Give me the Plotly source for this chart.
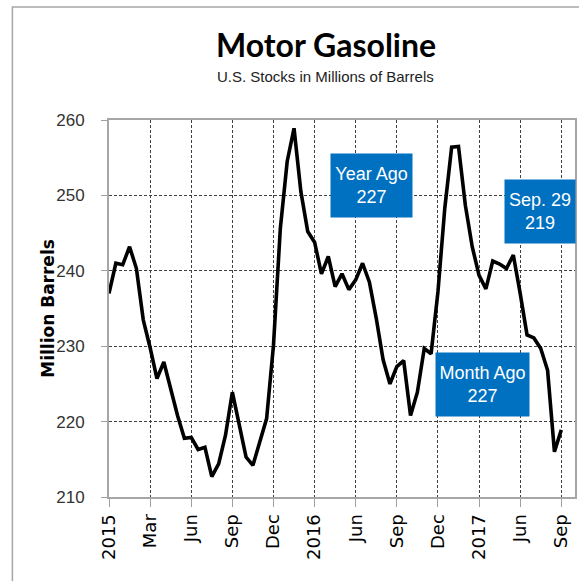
import plotly.graph_objects as go

# Semi-monthly observations, Jan 2015 .. Sep 29 2017 (million barrels)
stocks = [
    237.0, 241.0, 240.8, 243.2, 240.3, 233.5, 229.8, 225.7, 227.9, 224.1,
    220.8, 217.8, 217.9, 216.3, 216.6, 212.7, 214.4, 218.2, 223.9, 219.6,
    215.3, 214.2, 217.5, 220.4, 230.1, 245.6, 254.5, 258.9, 250.5, 245.2,
    243.8, 239.6, 241.9, 237.9, 239.6, 237.5, 238.8, 241.0, 238.5, 233.7,
    228.2, 225.0, 227.3, 228.1, 220.8, 223.9, 229.7, 229.0, 237.2, 248.3,
    256.4, 256.5, 248.7, 243.2, 239.4, 237.6, 241.3, 240.9, 240.3, 242.1,
    237.0, 231.5, 231.1, 229.7, 226.8, 216.0, 218.9,
]
period = list(range(len(stocks)))

tick_positions = [0, 6, 12, 18, 24, 30, 36, 42, 48, 54, 60, 66]
tick_labels = ["2015", "Mar", "Jun", "Sep", "Dec", "2016", "Jun", "Sep",
               "Dec", "2017", "Jun", "Sep"]
y_ticks = [210, 220, 230, 240, 250, 260]

title_text = "Motor Gasoline"
subtitle_text = "U.S. Stocks in Millions of Barrels"
y_title = "Million Barrels"
callouts = [
    ("Year Ago<br>227", 0.5624, 0.8257, 81, 63),
    ("Sep. 29<br>219", 0.9256, 0.7578, 70, 63),
    ("Month Ago<br>227", 0.8006, 0.2979, 93, 63),
]

SANS = "Liberation Sans, Arial, sans-serif"
BLUE = "#0070C0"

fig = go.Figure()
fig.add_trace(go.Scatter(
    x=period, y=stocks, mode="lines",
    line=dict(color="black", width=3.6),
    hoverinfo="skip", showlegend=False,
))

fig.update_layout(
    width=579, height=581,
    margin=dict(l=109, r=2, t=120, b=84),
    paper_bgcolor="white", plot_bgcolor="white",
    showlegend=False,
)

fig.update_xaxes(
    range=[0, 68],
    tickmode="array", tickvals=tick_positions, ticktext=tick_labels,
    tickangle=-90,
    tickfont=dict(family="DejaVu Sans, sans-serif", size=18, color="black"),
    ticks="outside", ticklen=8, tickcolor="#a0a0a0", tickwidth=1,
    showgrid=True, gridcolor="#404040", gridwidth=1, griddash="3px,2px",
    showline=True, linecolor="#a6a6a6", linewidth=2, mirror=True,
    zeroline=False,
)
fig.update_yaxes(
    range=[210, 260],
    tickmode="array", tickvals=y_ticks,
    tickfont=dict(family=SANS, size=17, color="#333333"),
    ticks="outside", ticklen=6, tickcolor="#a0a0a0", tickwidth=1,
    ticklabelstandoff=13,
    showgrid=True, gridcolor="#404040", gridwidth=1, griddash="3px,2px",
    showline=True, linecolor="#a6a6a6", linewidth=2, mirror=True,
    zeroline=False,
)

annotations = [
    dict(text=title_text, xref="paper", yref="paper", x=0.465, y=1.20,
         xanchor="center", yanchor="middle", showarrow=False,
         font=dict(family="Lato, Open Sans, sans-serif", size=32, color="black", weight="bold")),
    dict(text=subtitle_text, xref="paper", yref="paper", x=0.465, y=1.115,
         xanchor="center", yanchor="middle", showarrow=False,
         font=dict(family=SANS, size=15, color="#222222")),
    dict(text=y_title, xref="paper", yref="paper", x=-0.1325, y=0.5,
         xanchor="center", yanchor="middle", showarrow=False, textangle=-90,
         font=dict(family="DejaVu Sans, sans-serif", size=17, color="black", weight="bold")),
]
for txt, px, py, w, h in callouts:
    annotations.append(dict(
        text=txt, xref="paper", yref="paper", x=px, y=py,
        xanchor="center", yanchor="middle", showarrow=False,
        width=w, height=h, align="center", valign="middle",
        bgcolor=BLUE, borderpad=0,
        font=dict(family=SANS, size=18, color="white"),
    ))
fig.update_layout(annotations=annotations)

# outer chart border (top/left visible)
fig.add_shape(type="rect", xref="paper", yref="paper",
              x0=-0.2073, x1=1.2, y0=-0.5, y1=1.2997,
              line=dict(color="#a6a6a6", width=1.5), fillcolor="rgba(0,0,0,0)",
              layer="below")

fig.write_html(
    "out.html",
    config={"displayModeBar": False},
    post_script="document.body.style.margin='0';document.body.style.overflow='hidden';",
)
